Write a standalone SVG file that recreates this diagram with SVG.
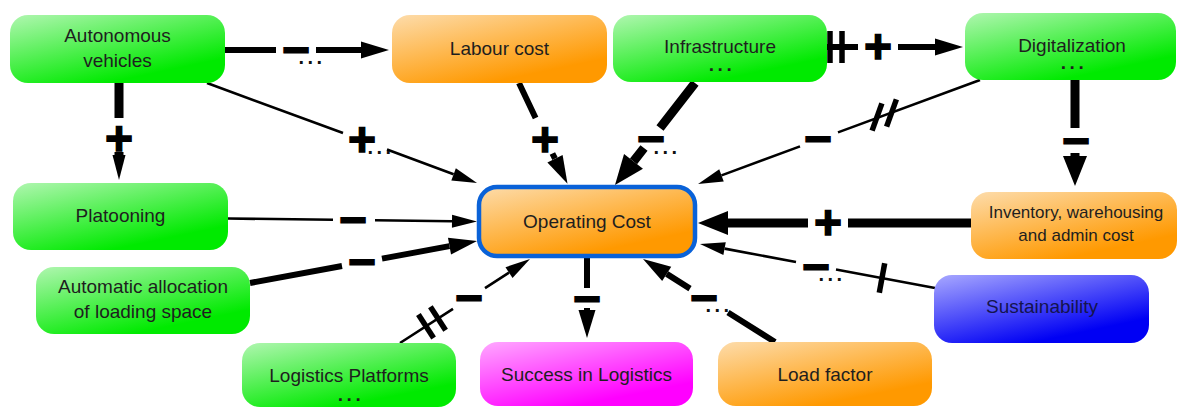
<svg xmlns="http://www.w3.org/2000/svg" width="1178" height="408" viewBox="0 0 1178 408">
<style>
.node text{font-family:"Liberation Sans",Arial,sans-serif;font-size:19px;fill:#1e1e1e;text-anchor:middle}
.node rect{stroke:none}
.dots{font-family:"Liberation Sans",Arial,sans-serif;font-weight:bold;font-size:20px;letter-spacing:3.5px;text-anchor:middle;fill:#111}
#connectors path{fill:none;stroke:#000;stroke-linecap:butt}
.thin{stroke-width:2.6}
.med{stroke-width:6}
.thick{stroke-width:9}
.bar{stroke:#000;stroke-width:5.5;fill:none}
.lbl{font-family:"Liberation Sans",Arial,sans-serif;font-weight:bold;font-size:48px;text-anchor:middle;fill:#000;stroke:#000;stroke-width:1.4}
</style>
<defs>
<linearGradient id="gGreen" x1="0" y1="0" x2="0.6" y2="0.9"><stop offset="0" stop-color="#b0f6b0"/><stop offset="1" stop-color="#00ea00"/></linearGradient>
<linearGradient id="gOrange" x1="0" y1="0" x2="0.6" y2="0.9"><stop offset="0" stop-color="#fddcab"/><stop offset="1" stop-color="#ff9900"/></linearGradient>
<linearGradient id="gMagenta" x1="0" y1="0" x2="0.6" y2="0.9"><stop offset="0" stop-color="#ffa8ff"/><stop offset="1" stop-color="#ff00ff"/></linearGradient>
<linearGradient id="gBlue" x1="0" y1="0" x2="0.6" y2="0.9"><stop offset="0" stop-color="#a8a8ff"/><stop offset="1" stop-color="#0000f4"/></linearGradient>
<marker id="aT" markerUnits="userSpaceOnUse" orient="auto" overflow="visible" markerWidth="1" markerHeight="1" refX="0" refY="0"><path d="M0,-6.5 L25,0 L0,6.5 Z" fill="#000"/></marker>
<marker id="aM" markerUnits="userSpaceOnUse" orient="auto" overflow="visible" markerWidth="1" markerHeight="1" refX="0" refY="0"><path d="M0,-8.5 L28,0 L0,8.5 Z" fill="#000"/></marker>
<marker id="aB" markerUnits="userSpaceOnUse" orient="auto" overflow="visible" markerWidth="1" markerHeight="1" refX="0" refY="0"><path d="M0,-12 L30,0 L0,12 Z" fill="#000"/></marker>
</defs>
<rect width="1178" height="408" fill="#fff"/>

<g id="connectors">
  <!-- Autonomous -> Labour -->
  <path class="med" d="M225,50 L276,50 M316,50 L361,50" marker-end="url(#aM)"/>
  <text class="lbl" x="296" y="66">−</text>
  <text class="dots" x="312" y="64">...</text>
  <!-- Autonomous -> Platooning -->
  <path class="thick" d="M119,83 L119,118 M119,152 L119,155" marker-end="url(#aT)"/>
  <text class="lbl" x="119" y="155">+</text>
  <!-- Autonomous -> Operating cost -->
  <path class="thin" d="M207,83 L343,133 M387,149.5 L453.6,174.3" marker-end="url(#aT)"/>
  <text class="lbl" x="362" y="156">+</text>
  <text class="dots" x="381" y="154">...</text>
  <!-- Labour -> OC -->
  <path class="med" d="M519,83 L535.6,118 M552.4,153.5 L555,158.7" marker-end="url(#aM)"/>
  <text class="lbl" x="545" y="156">+</text>
  <!-- Infrastructure -> OC -->
  <path class="thick" d="M695,83 L660,128 M644,148 L633.5,161.4" marker-end="url(#aB)"/>
  <text class="lbl" x="651" y="155">−</text>
  <text class="dots" x="667" y="154">...</text>
  <!-- Infrastructure -> Digitalization -->
  <path class="med" d="M827,47 L858,47 M898,47 L935,47" marker-end="url(#aM)"/>
  <line class="bar" x1="830" y1="31" x2="830" y2="63"/>
  <line class="bar" x1="842" y1="31" x2="842" y2="63"/>
  <text class="lbl" x="878" y="63">+</text>
  <!-- Digitalization -> OC -->
  <path class="thin" d="M980,80 L838,132.4 M800,146.4 L721.5,175.4" marker-end="url(#aT)"/>
  <line class="bar" x1="872.1" y1="130.6" x2="881.9" y2="103.4"/>
  <line class="bar" x1="886.6" y1="126.6" x2="896.4" y2="99.4"/>
  <text class="lbl" x="818" y="155">−</text>
  <!-- Digitalization -> Inventory -->
  <path class="thick" d="M1075,80 L1075,128 M1075,153 L1075,156" marker-end="url(#aB)"/>
  <text class="lbl" x="1076" y="157">−</text>
  <!-- Platooning -> OC -->
  <path class="thin" d="M228,218.5 L333,219.8 M375,220.3 L452,221.3" marker-end="url(#aT)"/>
  <text class="lbl" x="353" y="236">−</text>
  <!-- Automatic allocation -> OC -->
  <path class="med" d="M250,283 L342,266 M382,258.6 L449.5,246.1" marker-end="url(#aM)"/>
  <text class="lbl" x="362" y="278">−</text>
  <!-- Logistics Platforms -> OC -->
  <path class="thin" d="M400,343 L453,308.8 M485,288.1 L509,272.6" marker-end="url(#aT)"/>
  <line class="bar" x1="418.4" y1="314.4" x2="433.6" y2="338"/>
  <line class="bar" x1="430.4" y1="306.7" x2="445.6" y2="330.3"/>
  <text class="lbl" x="469" y="314">−</text>
  <!-- OC -> Success in Logistics -->
  <path class="med" d="M587,258 L587,288 M587,308 L587,310" marker-end="url(#aM)"/>
  <text class="lbl" x="587" y="315">−</text>
  <!-- Load factor -> OC -->
  <path class="med" d="M775,342 L728,312.5 M690,288.6 L666.7,273.9" marker-end="url(#aM)"/>
  <text class="lbl" x="704" y="314">−</text>
  <text class="dots" x="719" y="311.5">...</text>
  <!-- Inventory -> OC -->
  <path class="thick" d="M971,223 L848,223 M808,223 L728,223" marker-end="url(#aB)"/>
  <text class="lbl" x="828" y="239">+</text>
  <!-- Sustainability -> OC -->
  <path class="thin" d="M935,288 L836,269.5 M796,262 L724.6,248.6" marker-end="url(#aT)"/>
  <line class="bar" x1="884.7" y1="263.3" x2="879.3" y2="292.7"/>
  <text class="lbl" x="816" y="283">−</text>
  <text class="dots" x="832" y="280.5">...</text>
</g>

<g id="n-autonomous" class="node">
  <rect x="10" y="15" width="215" height="68" rx="18" fill="url(#gGreen)"/>
  <text x="117.5" y="42">Autonomous</text>
  <text x="117.5" y="67">vehicles</text>
</g>
<g id="n-labour" class="node">
  <rect x="392" y="15" width="215" height="68" rx="18" fill="url(#gOrange)"/>
  <text x="499.5" y="55">Labour cost</text>
</g>
<g id="n-infrastructure" class="node">
  <rect x="613" y="15" width="214" height="67" rx="18" fill="url(#gGreen)"/>
  <text x="720" y="53">Infrastructure</text>
  <text class="dots" x="722" y="71">...</text>
</g>
<g id="n-digitalization" class="node">
  <rect x="965" y="13" width="211" height="67" rx="18" fill="url(#gGreen)"/>
  <text x="1072" y="52">Digitalization</text>
  <text class="dots" x="1074" y="69">...</text>
</g>
<g id="n-platooning" class="node">
  <rect x="13" y="183" width="215" height="67" rx="18" fill="url(#gGreen)"/>
  <text x="120.5" y="222">Platooning</text>
</g>
<g id="n-allocation" class="node">
  <rect x="36" y="267" width="214" height="67" rx="18" fill="url(#gGreen)"/>
  <text x="143" y="293">Automatic allocation</text>
  <text x="143" y="318">of loading space</text>
</g>
<g id="n-platforms" class="node">
  <rect x="242" y="343" width="214" height="64" rx="18" fill="url(#gGreen)"/>
  <text x="349" y="382">Logistics Platforms</text>
  <text class="dots" x="351" y="401">...</text>
</g>
<g id="n-operating" class="node">
  <rect x="479" y="187" width="216" height="69" rx="18" fill="url(#gOrange)" style="stroke:#0a62d8;stroke-width:4.5"/>
  <text x="587" y="228">Operating Cost</text>
</g>
<g id="n-success" class="node">
  <rect x="480" y="342" width="213" height="64" rx="18" fill="url(#gMagenta)"/>
  <text x="586.5" y="381">Success in Logistics</text>
</g>
<g id="n-load" class="node">
  <rect x="718" y="342" width="214" height="64" rx="18" fill="url(#gOrange)"/>
  <text x="825" y="381">Load factor</text>
</g>
<g id="n-inventory" class="node">
  <rect x="971" y="192" width="206" height="67" rx="18" fill="url(#gOrange)"/>
  <text x="1076" y="218" style="font-size:17px">Inventory, warehousing</text>
  <text x="1076" y="241" style="font-size:17px">and admin cost</text>
</g>
<g id="n-sustainability" class="node">
  <rect x="934" y="275" width="215" height="68" rx="18" fill="url(#gBlue)"/>
  <text x="1042" y="313" style="fill:#14144e">Sustainability</text>
</g>
</svg>
